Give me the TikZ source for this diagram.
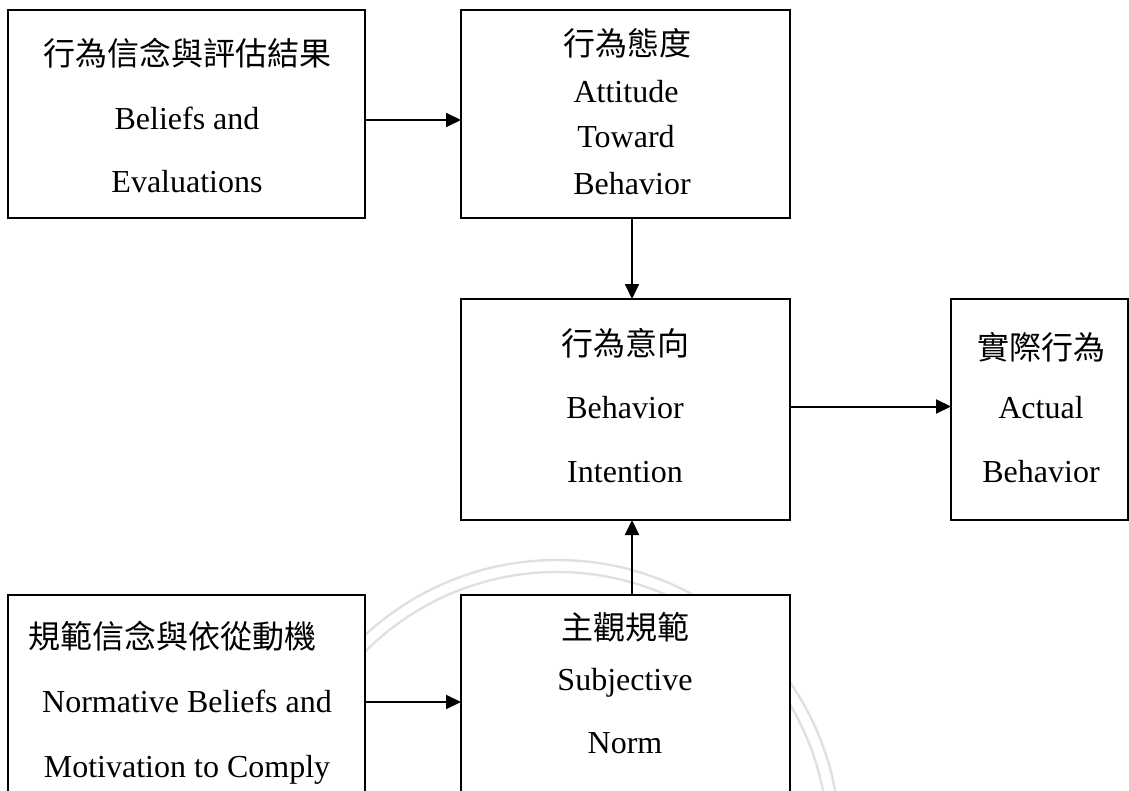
\documentclass[tikz,border=0pt]{standalone}
\usepackage{fontspec}
\setmainfont{Liberation Serif}
\newfontfamily\cjk{Noto Sans CJK TC}
\usetikzlibrary{arrows.meta}

\begin{document}
\begin{tikzpicture}[x=0.5pt,y=-0.5pt,
  box/.style={draw=black, fill=white, line width=1pt, rectangle,
              inner sep=0pt, outer sep=0pt},
  lbl/.style={inner sep=0pt, font=\fontsize{16pt}{19pt}\selectfont},
  zh/.style={lbl, font=\fontsize{16pt}{19pt}\selectfont\cjk, anchor=center},
  en/.style={lbl, anchor=base},
  arr/.style={line width=1pt, -{Triangle[length=7.5pt,width=7pt]}},
  seal/.style={draw=black!12, line width=1.2pt}
]
\useasboundingbox (0,0) rectangle (1129,791);
\clip (0,0) rectangle (1129,791);

% faint seal rings in the background
\draw[seal] (557,843) circle[radius=283];
\draw[seal] (557,843) circle[radius=271];

% boxes
\node[box, minimum width=178.5pt, minimum height=104pt]  (b1) at (186.5,114) {};
\node[box, minimum width=164.5pt, minimum height=104pt]  (b2) at (625.5,114) {};
\node[box, minimum width=164.5pt, minimum height=110.5pt] (b3) at (625.5,409.5) {};
\node[box, minimum width=88.25pt, minimum height=110.5pt] (b4) at (1039.25,409.5) {};
\node[box, minimum width=178.5pt, minimum height=105pt]  (b5) at (186.5,700) {};
\node[box, minimum width=164.5pt, minimum height=105pt]  (b6) at (625.5,700) {};

% beliefs and evaluations
\node[zh] (t1a) at (187,53)  {行為信念與評估結果};
\node[en] (t1b) at (187,130) {Beliefs and};
\node[en] (t1c) at (187,193) {Evaluations};

% attitude toward behavior
\node[zh] (t2a) at (627,43)  {行為態度};
\node[en] (t2b) at (626,103) {Attitude};
\node[en] (t2c) at (626,148) {Toward};
\node[en] (t2d) at (632,195) {Behavior};

% behavior intention
\node[zh] (t3a) at (625,343) {行為意向};
\node[en] (t3b) at (625,418) {Behavior};
\node[en] (t3c) at (625,482) {Intention};

% actual behavior
\node[zh] (t4a) at (1041,347) {實際行為};
\node[en] (t4b) at (1041,418) {Actual};
\node[en] (t4c) at (1041,482) {Behavior};

% normative beliefs and motivation to comply
\node[zh] (t5a) at (172,636) {規範信念與依從動機};
\node[en] (t5b) at (187,712) {Normative Beliefs and};
\node[en] (t5c) at (187,777) {Motivation to Comply};

% subjective norm
\node[zh] (t6a) at (625,627) {主觀規範};
\node[en] (t6b) at (625,690) {Subjective};
\node[en] (t6c) at (625,753) {Norm};

% connectors
\draw[arr] ([yshift=-3pt]b1.east) -- ([yshift=-3pt]b2.west);
\draw[arr] ([xshift=3.25pt]b2.south) -- ([xshift=3.25pt]b3.north);
\draw[arr] ([yshift=1.5pt]b3.east) -- ([yshift=1.5pt]b4.west);
\draw[arr] ([xshift=3.25pt]b6.north) -- ([xshift=3.25pt]b3.south);
\draw[arr] ([yshift=-1pt]b5.east) -- ([yshift=-1pt]b6.west);
\end{tikzpicture}
\end{document}
